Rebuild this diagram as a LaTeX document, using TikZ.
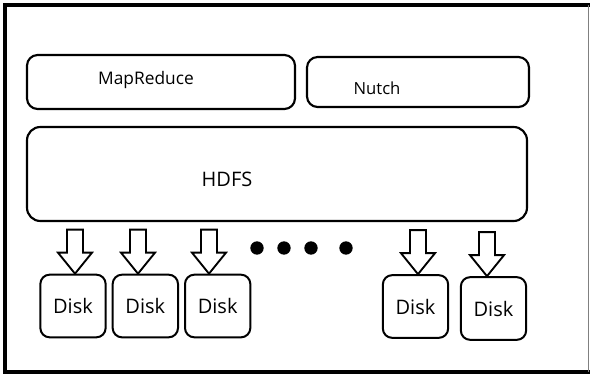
\documentclass[tikz,border=0pt]{standalone}
\usepackage{fontspec}
\setmainfont{Open Sans}
\usetikzlibrary{positioning,calc}

\tikzset{
  layerbox/.style={draw=black,line width=1.6pt,rounded corners=8pt,inner sep=0pt},
  diskbox/.style={draw=black,line width=1.5pt,rounded corners=7pt,minimum width=49pt,minimum height=47pt,inner sep=0pt,font=\fontsize{15}{18}\selectfont},
  hollowarr/.style={draw=black,line width=1.4pt,fill=white,line join=miter},
  bigdot/.style={circle,fill=black,inner sep=0pt,minimum size=10pt},
}

\begin{document}
\begin{tikzpicture}[x=0.75pt,y=-0.75pt]
		\useasboundingbox (0,0) rectangle (590,375);
		% outer frame
		\draw[line width=2.4pt] (590,5) -- (5,5) -- (5,372) -- (590,372);
		\draw[gray,line width=0.6pt] (588.5,5) -- (588.5,372);
		
		\node[layerbox,minimum width=201pt,minimum height=40.5pt] (mr) at (161,82) {};
		\node[layerbox,minimum width=166.5pt,minimum height=37.5pt] (nutch) at (418,82) {};
		\node[layerbox,rounded corners=10pt,minimum width=375pt,minimum height=70.5pt] (hdfs) at (277,174) {};
		\node[font=\fontsize{13}{15}\selectfont] (mrtxt) at (146,80) {MapReduce};
		\node[font=\fontsize{12.5}{15}\selectfont] (nutchtxt) at (377,88) {Nutch};
		\node[font=\fontsize{15}{18}\selectfont] (hdfstxt) at (227,179) {HDFS};
		
		\node[diskbox] (d1) at (73,306) {Disk};
		\node[diskbox,right=3.75pt of d1] (d2) {Disk};
		\node[diskbox,right=3.75pt of d2] (d3) {Disk};
		\node[diskbox] (d4) at (415.5,306.5) {Disk};
		\node[diskbox,right=8pt of d4,yshift=-1.5pt] (d5) {Disk};
		
		\foreach \x/\d in {75/d1,138/d2,209/d3,418/d4,487/d5}
			\draw[hollowarr] (\x,0 |- \d.north) -- ++(-17,-21) -- ++(9,0) -- ++(0,-23) -- ++(16,0) -- ++(0,23) -- ++(9,0) -- cycle;
		
		\foreach \x [count=\i] in {257,284,311,346}
			\node[bigdot] (dot\i) at (\x,248) {};
	\end{tikzpicture}
\end{document}
